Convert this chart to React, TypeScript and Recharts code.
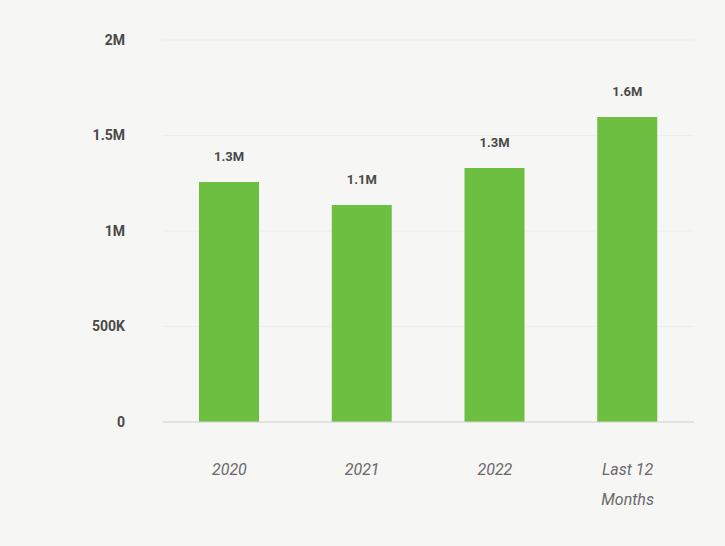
import { BarChart, Bar, XAxis, YAxis, CartesianGrid, LabelList } from 'recharts'

const periods = ['2020', '2021', '2022', 'Last 12 Months']
const totals = [1257000, 1136000, 1330000, 1597000]
const yTicks = [0, 500000, 1000000, 1500000, 2000000]

const chartData = periods.map((p, i) => ({ period: p, total: totals[i] }))

function formatAxis(v: number) {
  if (v === 0) return '0'
  if (v >= 1000000) return `${v / 1000000}M`
  return `${v / 1000}K`
}

function formatLabel(v: any) {
  return `${(Number(v) / 1000000).toFixed(1)}M`
}

function PeriodTick(props: any) {
  const { x, y, payload } = props
  const words = String(payload.value).split(' ')
  // "Last 12 Months" goes on two lines
  const lines = words.length > 2 ? [words.slice(0, 2).join(' '), words.slice(2).join(' ')] : [payload.value]
  return (
    <text x={x} y={y} textAnchor="middle" fill="#6a6a6a" fontSize={16} fontStyle="italic" fontFamily="Roboto">
      {lines.map((l: string, i: number) => (
        <tspan key={i} x={x} dy={i === 0 ? 0 : 30}>{l}</tspan>
      ))}
    </text>
  )
}

export default function App() {
  return (
    <div style={{ position: 'fixed', top: 0, left: 0, width: 725, height: 546, background: '#f6f6f4' }}>
      <BarChart width={725} height={546} data={chartData} margin={{ top: 40, right: 31, bottom: 24, left: 0 }}>
        <CartesianGrid vertical={false} stroke="#eeeeec" />
        <XAxis
          dataKey="period"
          axisLine={{ stroke: '#d2d2d0' }}
          tickLine={false}
          height={100}
          tick={(p: any) => <PeriodTick {...p} y={p.y + 45} />}
          interval={0}
        />
        <YAxis
          width={163}
          domain={[0, 2000000]}
          ticks={yTicks}
          tickFormatter={formatAxis}
          axisLine={false}
          tickLine={false}
          tickMargin={32}
          tick={{ fill: '#4a4a4a', fontSize: 14, fontWeight: 'bold', fontFamily: 'Roboto' }}
        />
        <Bar dataKey="total" fill="#6cbf40" barSize={60} isAnimationActive={false}>
          <LabelList
            dataKey="total"
            position="top"
            offset={21}
            formatter={formatLabel}
            style={{ fill: '#4a4a4a', fontSize: 13, fontWeight: 'bold', fontFamily: 'Roboto' }}
          />
        </Bar>
      </BarChart>
    </div>
  )
}
